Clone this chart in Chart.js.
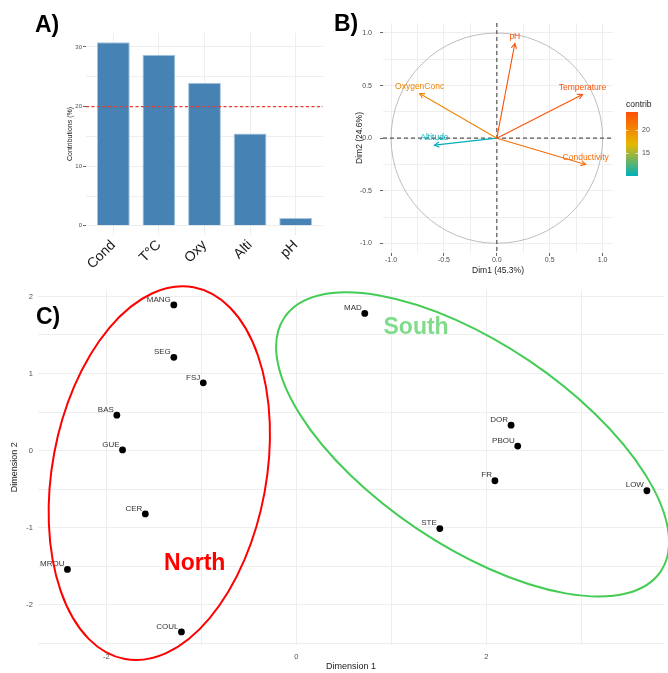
<!DOCTYPE html>
<html lang="en">
<head>
<meta charset="UTF-8">
<title>PCA figure</title>
<script src="https://cdn.jsdelivr.net/npm/chart.js"></script>
<style>
  body { margin: 0; background: #fff; }
  #page { position: relative; width: 668px; height: 673px; overflow: hidden; }
  canvas { position: absolute; }
  .tag { position: absolute; font: bold 23px "Liberation Sans", Arial, sans-serif; line-height: 1; color: #000; }
</style>
</head>
<body>
<div id="page">
  <canvas id="chartA" width="340" height="280" style="left:0;top:0"></canvas>
  <canvas id="chartB" width="328" height="280" style="left:340px;top:0"></canvas>
  <canvas id="chartC" width="668" height="393" style="left:0;top:280px"></canvas>
  <div class="tag" style="left:35px;top:13px">A)</div>
  <div class="tag" style="left:334px;top:12px">B)</div>
  <div class="tag" style="left:36px;top:305px">C)</div>
</div>
<script>
// --- A) contributions to Dim1
const contribLabels = ['Cond', 'T°C', 'Oxy', 'Alti', 'pH'];
const contribValues = [30.8, 28.7, 24.0, 15.5, 1.3];
const contribTicks = [0, 5, 10, 15, 20, 25, 30];
const contribThreshold = 20;

// --- B) variable correlation circle
const varNames = ['pH', 'Temperature', 'OxygenConc', 'Altitude', 'Conductivity'];
const varDim1 = [0.17, 0.81, -0.73, -0.59, 0.84];
const varDim2 = [0.90, 0.415, 0.425, -0.066, -0.25];
const varContrib = [24.0, 23.7, 20.4, 10.1, 22.0];
const circleTicks = [-1, -0.75, -0.5, -0.25, 0, 0.25, 0.5, 0.75, 1];
const legendTicks = [15, 20];

// --- C) site scores
const siteNames = ['MANG', 'SEG', 'FSJ', 'BAS', 'GUE', 'CER', 'MROU', 'COUL', 'MAD', 'DOR', 'PBOU', 'FR', 'LOW', 'STE'];
const siteDim1 = [-1.29, -1.29, -0.98, -1.89, -1.83, -1.59, -2.41, -1.21, 0.72, 2.26, 2.33, 2.09, 3.69, 1.51];
const siteDim2 = [1.89, 1.21, 0.88, 0.46, 0.01, -0.82, -1.54, -2.35, 1.78, 0.33, 0.06, -0.39, -0.52, -1.01];
const groupNames = ['North', 'South'];
const groupCenterX = [-1.443, 1.855];
const groupCenterY = [-0.292, 0.081];
const groupLabelX = [-1.07, 1.26];
const groupLabelY = [-1.46, 1.59];
const siteTicksX = [-2, -1, 0, 1, 2, 3];
const siteTicksY = [-2.5, -2, -1.5, -1, -0.5, 0, 0.5, 1, 1.5, 2];

Chart.defaults.font.family = "'Liberation Sans', Arial, sans-serif";
Chart.defaults.animation = false;
Chart.defaults.plugins.legend.display = false;
Chart.defaults.plugins.tooltip.enabled = false;

const gridCol = '#EEEEEE';

// ---------- A
const thresholdLine = {
  id: 'threshold',
  afterDatasetsDraw(chart) {
    const {ctx, chartArea} = chart;
    const y = chart.scales.y.getPixelForValue(contribThreshold);
    ctx.save();
    ctx.strokeStyle = '#EE3B2B';
    ctx.lineWidth = 1.2;
    ctx.setLineDash([3, 2.5]);
    ctx.beginPath();
    ctx.moveTo(chartArea.left, y);
    ctx.lineTo(chartArea.right, y);
    ctx.stroke();
    ctx.restore();
  }
};

new Chart(document.getElementById('chartA'), {
  type: 'bar',
  data: {
    datasets: [{
      data: contribValues.map((v, i) => ({x: i + 1, y: v})),
      backgroundColor: '#4682B4',
      borderColor: '#A9C3DA',
      borderWidth: 1,
      barPercentage: 0.72,
      categoryPercentage: 1
    }]
  },
  options: {
    responsive: false,
    layout: {padding: {left: 66, right: 17, top: 33, bottom: 0}},
    scales: {
      x: {
        type: 'linear', min: 0.4, max: 5.6, offset: false,
        afterBuildTicks: s => { s.ticks = contribLabels.map((l, i) => ({value: i + 1})); },
        grid: {color: gridCol, drawTicks: false, offset: false},
        border: {display: false},
        ticks: {minRotation: 45, maxRotation: 45, autoSkip: false, font: {size: 14}, color: '#1A1A1A', padding: 2,
                callback: v => contribLabels[v - 1]},
        afterFit: s => { s.height = 45; }
      },
      y: {
        min: -1.54, max: 32.34,
        afterBuildTicks: s => { s.ticks = contribTicks.map(v => ({value: v})); },
        grid: {color: gridCol, tickLength: 3, tickColor: c => (c.tick && c.tick.value % 10 === 0) ? '#666' : 'rgba(0,0,0,0)'},
        border: {display: false},
        ticks: {font: {size: 6}, color: '#4D4D4D', padding: 1, callback: v => v % 10 === 0 ? v : ''},
        title: {display: true, text: 'Contributions (%)', font: {size: 7}, color: '#222', padding: 0},
        afterFit: s => { s.width = 20; }
      }
    }
  },
  plugins: [thresholdLine]
});

// ---------- B
const gradCols = ['#00AFBB', '#E7B800', '#FC4E07'];
const cMin = Math.min(...varContrib), cMax = Math.max(...varContrib);
function hexRgb(h) { return [1, 3, 5].map(i => parseInt(h.substr(i, 2), 16)); }
function contribColor(v) {
  let t = (v - cMin) / (cMax - cMin);
  t = Math.max(0, Math.min(1, t)) * 2;
  const k = Math.min(1, Math.floor(t));
  const f = t - k;
  const a = hexRgb(gradCols[k]), b = hexRgb(gradCols[k + 1]);
  const c = a.map((x, i) => Math.round(x + (b[i] - x) * f));
  return `rgb(${c[0]},${c[1]},${c[2]})`;
}
const varColors = varContrib.map(contribColor);

const circlePlugin = {
  id: 'circle',
  beforeDatasetsDraw(chart) {
    const {ctx, chartArea, scales: {x, y}} = chart;
    const cx = x.getPixelForValue(0), cy = y.getPixelForValue(0);
    ctx.save();
    ctx.strokeStyle = '#BDBDBD';
    ctx.lineWidth = 1;
    ctx.beginPath();
    ctx.ellipse(cx, cy, x.getPixelForValue(1) - cx, cy - y.getPixelForValue(1), 0, 0, Math.PI * 2);
    ctx.stroke();
    ctx.strokeStyle = '#555';
    ctx.lineWidth = 1.2;
    ctx.setLineDash([4, 3]);
    ctx.beginPath();
    ctx.moveTo(chartArea.left, cy); ctx.lineTo(chartArea.right, cy);
    ctx.moveTo(cx, chartArea.top); ctx.lineTo(cx, chartArea.bottom);
    ctx.stroke();
    ctx.restore();
  },
  afterDatasetsDraw(chart) {
    const {ctx} = chart;
    ctx.save();
    ctx.lineWidth = 1.1;
    ctx.font = "8.5px 'Liberation Sans', Arial, sans-serif";
    ctx.textAlign = 'center';
    ctx.textBaseline = 'middle';
    varNames.forEach((name, i) => {
      const pts = chart.getDatasetMeta(i).data;
      const p0 = pts[0], p1 = pts[1];
      const ang = Math.atan2(p1.y - p0.y, p1.x - p0.x);
      const len = 5.5;
      ctx.strokeStyle = varColors[i];
      ctx.beginPath();
      ctx.moveTo(p1.x - len * Math.cos(ang - 0.5), p1.y - len * Math.sin(ang - 0.5));
      ctx.lineTo(p1.x, p1.y);
      ctx.lineTo(p1.x - len * Math.cos(ang + 0.5), p1.y - len * Math.sin(ang + 0.5));
      ctx.stroke();
      ctx.fillStyle = varColors[i];
      ctx.fillText(name, p1.x, p1.y - 7);
    });
    // colour bar legend
    const bx = 286, bw = 12, by = 112, bh = 64;
    const g = ctx.createLinearGradient(0, by + bh, 0, by);
    g.addColorStop(0, gradCols[0]); g.addColorStop(0.5, gradCols[1]); g.addColorStop(1, gradCols[2]);
    ctx.fillStyle = g;
    ctx.fillRect(bx, by, bw, bh);
    ctx.fillStyle = '#222';
    ctx.textAlign = 'left';
    ctx.textBaseline = 'alphabetic';
    ctx.font = "8.5px 'Liberation Sans', Arial, sans-serif";
    ctx.fillText('contrib', bx, by - 5);
    ctx.font = "7px 'Liberation Sans', Arial, sans-serif";
    ctx.textBaseline = 'middle';
    ctx.fillStyle = '#4D4D4D';
    ctx.strokeStyle = 'rgba(255,255,255,0.9)';
    ctx.lineWidth = 0.8;
    legendTicks.forEach(v => {
      const ty = by + (cMax - v) / (cMax - cMin) * bh;
      ctx.beginPath();
      ctx.moveTo(bx, ty); ctx.lineTo(bx + 2.5, ty);
      ctx.moveTo(bx + bw - 2.5, ty); ctx.lineTo(bx + bw, ty);
      ctx.stroke();
      ctx.fillText(String(v), bx + bw + 4, ty);
    });
    ctx.restore();
  }
};

new Chart(document.getElementById('chartB'), {
  type: 'scatter',
  data: {
    datasets: varNames.map((n, i) => ({
      data: [{x: 0, y: 0}, {x: varDim1[i], y: varDim2[i]}],
      showLine: true,
      borderColor: varColors[i],
      borderWidth: 1.1,
      pointRadius: 0
    }))
  },
  options: {
    responsive: false,
    layout: {padding: {left: 15, right: 55, top: 23, bottom: 0}},
    scales: {
      x: {
        min: -1.076, max: 1.098,
        afterBuildTicks: s => { s.ticks = circleTicks.map(v => ({value: v})); },
        grid: {color: gridCol, tickLength: 3, tickColor: c => (c.tick && Math.abs(c.tick.value * 2 % 1) < 1e-6) ? '#666' : 'rgba(0,0,0,0)'},
        border: {display: false},
        ticks: {font: {size: 7}, color: '#4D4D4D', padding: 0, callback: v => Math.abs(v * 2 % 1) < 1e-6 ? v.toFixed(1) : ''},
        title: {display: true, text: 'Dim1 (45.3%)', font: {size: 8.5}, color: '#222', padding: {top: 0, bottom: 4}},
        afterFit: s => { s.height = 27; }
      },
      y: {
        min: -1.092, max: 1.095,
        afterBuildTicks: s => { s.ticks = circleTicks.map(v => ({value: v})); },
        grid: {color: gridCol, tickLength: 3, tickColor: c => (c.tick && Math.abs(c.tick.value * 2 % 1) < 1e-6) ? '#666' : 'rgba(0,0,0,0)'},
        border: {display: false},
        ticks: {font: {size: 7}, color: '#4D4D4D', padding: 8, callback: v => Math.abs(v * 2 % 1) < 1e-6 ? v.toFixed(1) : ''},
        title: {display: true, text: 'Dim2 (24.6%)', font: {size: 8.5}, color: '#222', padding: 0},
        afterFit: s => { s.width = 28; }
      }
    }
  },
  plugins: [circlePlugin]
});

// ---------- C
const ellipseStyle = [
  {rx: 107, ry: 189, rot: 10.45, color: '#FF0000', text: '#FF0000'},
  {rx: 227, ry: 101, rot: 34, color: '#44CC55', text: '#7EDC8B'}
];

const sitePlugin = {
  id: 'sites',
  afterDatasetsDraw(chart) {
    const {ctx, scales: {x, y}} = chart;
    ctx.save();
    ctx.font = "8px 'Liberation Sans', Arial, sans-serif";
    ctx.fillStyle = '#333';
    ctx.textAlign = 'right';
    ctx.textBaseline = 'middle';
    siteNames.forEach((n, i) => {
      ctx.fillText(n, x.getPixelForValue(siteDim1[i]) - 3, y.getPixelForValue(siteDim2[i]) - 5.5);
    });
    groupNames.forEach((g, i) => {
      const st = ellipseStyle[i];
      ctx.strokeStyle = st.color;
      ctx.lineWidth = 2;
      ctx.beginPath();
      ctx.ellipse(x.getPixelForValue(groupCenterX[i]), y.getPixelForValue(groupCenterY[i]),
                  st.rx, st.ry, st.rot * Math.PI / 180, 0, Math.PI * 2);
      ctx.stroke();
      ctx.fillStyle = st.text;
      ctx.font = "bold 23px 'Liberation Sans', Arial, sans-serif";
      ctx.textAlign = 'center';
      ctx.fillText(g, x.getPixelForValue(groupLabelX[i]), y.getPixelForValue(groupLabelY[i]));
    });
    ctx.restore();
  }
};

new Chart(document.getElementById('chartC'), {
  type: 'scatter',
  data: {
    datasets: [{
      data: siteDim1.map((v, i) => ({x: v, y: siteDim2[i]})),
      backgroundColor: '#000',
      borderWidth: 0,
      pointRadius: 3.4
    }]
  },
  options: {
    responsive: false,
    layout: {padding: {left: 9, right: 0, top: 7, bottom: 0}},
    scales: {
      x: {
        min: -2.72, max: 3.87,
        afterBuildTicks: s => { s.ticks = siteTicksX.map(v => ({value: v})); },
        grid: {color: gridCol, drawTicks: false},
        border: {display: false},
        ticks: {font: {size: 7.5}, color: '#4D4D4D', padding: 7, callback: v => v % 2 === 0 ? v : ''},
        title: {display: true, text: 'Dimension 1', font: {size: 9}, color: '#222', padding: {top: 0, bottom: 1}},
        afterFit: s => { s.height = 28; }
      },
      y: {
        min: -2.52, max: 2.09,
        afterBuildTicks: s => { s.ticks = siteTicksY.map(v => ({value: v})); },
        grid: {color: gridCol, drawTicks: false},
        border: {display: false},
        ticks: {font: {size: 7.5}, color: '#4D4D4D', padding: 5, callback: v => Number.isInteger(v) ? v : ''},
        title: {display: true, text: 'Dimension 2', font: {size: 9}, color: '#222', padding: 0},
        afterFit: s => { s.width = 29; }
      }
    }
  },
  plugins: [sitePlugin]
});
</script>
</body>
</html>
